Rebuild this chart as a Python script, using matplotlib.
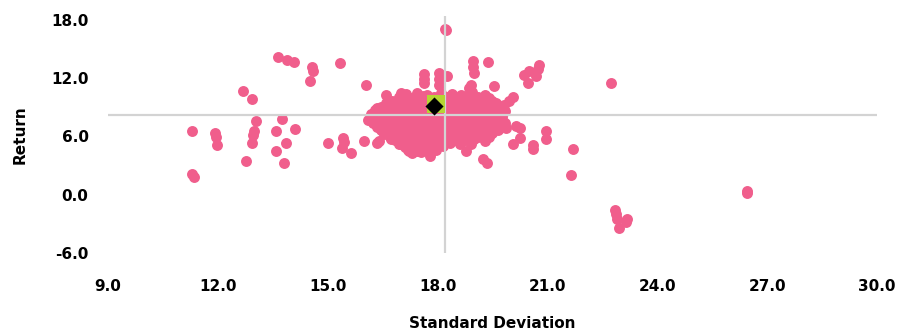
import matplotlib
matplotlib.use('Agg')
import matplotlib.pyplot as plt

# Funds: standard deviation vs return
left_sd = [11.29, 11.29, 11.36, 11.91, 11.95, 11.97, 12.70, 12.93, 13.03, 12.98,
           12.95, 12.93, 12.76, 13.75, 13.58, 13.85, 13.58, 14.12, 13.80, 13.64,
           13.89, 14.07, 14.56, 14.60, 14.51, 15.33, 15.00, 15.43, 15.44, 15.40,
           15.65, 15.99, 16.04, 16.58, 16.39, 16.36, 16.34, 16.17]
left_ret = [6.54, 2.10, 1.83, 6.31, 5.90, 5.11, 10.65, 9.83, 7.57, 6.54,
            6.20, 5.35, 3.50, 7.81, 6.54, 5.31, 4.49, 6.79, 3.30, 14.13,
            13.90, 13.69, 13.11, 12.70, 11.67, 13.52, 5.35, 5.87, 5.42, 4.77,
            4.33, 5.52, 11.26, 10.24, 5.52, 5.28, 8.94, 8.26]

core_sd = [17.15, 17.45, 17.70, 18.10, 18.40, 18.65, 18.95, 19.30,
           16.75, 17.00, 17.30, 17.55, 17.80, 18.15, 18.40, 18.70, 19.00, 19.25, 19.50,
           16.45, 16.70, 16.95, 17.25, 17.50, 17.75, 18.05, 18.30, 18.55, 18.85, 19.10, 19.40, 19.70,
           16.20, 16.50, 16.80, 17.05, 17.30, 17.60, 17.85, 18.10, 18.40, 18.65, 18.90, 19.20, 19.45, 19.75,
           16.10, 16.40, 16.65, 16.95, 17.20, 17.45, 17.75, 18.00, 18.25, 18.55, 18.80, 19.05, 19.35, 19.60,
           16.35, 16.60, 16.90, 17.15, 17.40, 17.70, 17.95, 18.20, 18.50, 18.75, 19.00, 19.30, 19.55,
           16.55, 16.80, 17.05, 17.35, 17.60, 17.90, 18.15, 18.40, 18.70, 18.95, 19.20, 19.50,
           16.85, 17.10, 17.40, 17.65, 17.90, 18.20, 18.45, 18.75, 19.00, 19.30,
           17.10, 17.35, 17.60, 17.85, 18.15,
           17.30, 17.55]
core_ret = [10.35, 10.45, 10.30, 10.50, 10.40, 10.25, 10.60, 10.30,
            9.70, 9.85, 9.75, 9.90, 9.80, 9.70, 9.95, 9.80, 9.75, 9.90, 9.60,
            9.05, 9.15, 9.00, 9.20, 9.10, 9.05, 9.15, 9.00, 9.20, 9.10, 9.05, 9.15, 9.00,
            8.35, 8.45, 8.30, 8.50, 8.40, 8.35, 8.45, 8.30, 8.40, 8.50, 8.35, 8.45, 8.30, 8.40,
            7.70, 7.60, 7.75, 7.65, 7.80, 7.70, 7.60, 7.75, 7.70, 7.65, 7.80, 7.70, 7.60, 7.75,
            7.00, 6.95, 7.10, 7.00, 6.90, 7.05, 7.00, 6.95, 7.10, 7.00, 6.90, 7.05, 6.95,
            6.30, 6.40, 6.25, 6.35, 6.30, 6.20, 6.35, 6.30, 6.25, 6.40, 6.30, 6.35,
            5.60, 5.70, 5.55, 5.65, 5.60, 5.50, 5.65, 5.60, 5.70, 5.55,
            4.90, 4.80, 4.95, 4.85, 5.00,
            4.30, 4.40]

# second, offset layer of the dense middle
core2_sd = [16.95, 17.30, 17.60, 17.90, 18.25, 18.55, 18.80, 19.10, 19.40,
            16.60, 16.85, 17.15, 17.40, 17.65, 17.95, 18.25, 18.50, 18.80, 19.05, 19.35, 19.60,
            16.30, 16.60, 16.85, 17.10, 17.40, 17.65, 17.95, 18.20, 18.50, 18.75, 19.00, 19.30, 19.55, 19.85,
            16.25, 16.55, 16.80, 17.10, 17.35, 17.65, 17.90, 18.15, 18.45, 18.70, 18.95, 19.25, 19.50, 19.75,
            16.25, 16.50, 16.80, 17.05, 17.30, 17.60, 17.85, 18.10, 18.40, 18.65, 18.90, 19.20, 19.45, 19.70,
            16.45, 16.70, 17.00, 17.25, 17.50, 17.80, 18.05, 18.30, 18.60, 18.85, 19.10, 19.40, 19.65,
            16.70, 16.95, 17.20, 17.50, 17.75, 18.00, 18.30, 18.55, 18.85, 19.10, 19.40,
            16.95, 17.25, 17.50, 17.75, 18.05, 18.35, 18.60, 18.90,
            17.20, 17.45, 17.70, 17.95]
core2_ret = [10.10, 10.00, 10.15, 10.05, 10.10, 10.00, 10.15, 10.05, 10.00,
             9.45, 9.40, 9.50, 9.45, 9.35, 9.50, 9.45, 9.40, 9.50, 9.45, 9.35, 9.40,
             8.75, 8.70, 8.80, 8.75, 8.65, 8.80, 8.75, 8.70, 8.80, 8.75, 8.70, 8.80, 8.75, 8.65,
             8.05, 8.00, 8.10, 8.05, 7.95, 8.10, 8.05, 8.00, 8.10, 8.05, 7.95, 8.05, 8.10, 8.00,
             7.35, 7.30, 7.40, 7.35, 7.25, 7.40, 7.35, 7.30, 7.40, 7.35, 7.30, 7.40, 7.35, 7.25,
             6.65, 6.60, 6.70, 6.65, 6.55, 6.70, 6.65, 6.60, 6.70, 6.65, 6.60, 6.70, 6.65,
             5.95, 5.90, 6.00, 5.95, 5.85, 6.00, 5.95, 5.90, 6.00, 5.95, 5.90,
             5.25, 5.20, 5.30, 5.25, 5.15, 5.30, 5.25, 5.20,
             4.60, 4.55, 4.65, 4.60]

upper_sd = [18.20, 18.23, 17.62, 17.62, 17.63, 18.05, 18.05, 18.05, 18.27, 17.01,
            18.91, 18.87, 18.96, 18.96, 18.99, 19.37, 19.55, 20.05, 19.82, 19.95,
            20.78, 20.74, 20.69, 20.51, 20.37, 20.46]
upper_ret = [17.10, 16.95, 12.46, 11.90, 11.50, 12.50, 11.90, 11.33, 12.26, 10.48,
             11.33, 11.00, 13.72, 13.10, 12.50, 13.66, 11.20, 10.07, 9.28, 9.70,
             13.38, 12.90, 12.19, 12.70, 12.36, 11.50]

right_sd = [22.75, 21.71, 21.65, 26.46, 26.46, 22.84, 22.86, 22.90, 23.18, 23.16,
            22.95, 20.97, 20.95, 20.62, 20.62, 20.24, 20.26, 20.07, 19.84, 19.87,
            20.15, 18.78, 19.23, 19.35, 17.80, 17.22, 17.00, 16.72]
right_ret = [11.47, 4.74, 2.07, 0.42, 0.22, -1.56, -2.00, -2.50, -2.50, -2.79,
             -3.47, 6.54, 5.69, 5.08, 4.67, 6.89, 5.87, 5.18, 7.40, 6.89,
             7.06, 4.49, 3.71, 3.30, 3.98, 4.49, 5.18, 5.69]

# reference lines and highlighted points
avg_sd, avg_ret = 18.2, 8.2
bench_sd, bench_ret = 17.97, 9.35
port_sd, port_ret = 17.90, 9.10

xticks = [9, 12, 15, 18, 21, 24, 27, 30]
yticks = [-6, 0, 6, 12, 18]

pink = '#F05E8C'
plt.rcParams['font.family'] = ['DejaVu Sans']
plt.rcParams['font.weight'] = 'bold'

fig = plt.figure(figsize=(8.99, 3.36), dpi=100)
ax = fig.add_axes([0.1201, 0.247, 0.8554, 0.7054])

all_sd = left_sd + core_sd + core2_sd + upper_sd + right_sd
all_ret = left_ret + core_ret + core2_ret + upper_ret + right_ret
ax.scatter(all_sd, all_ret, s=62, color=pink, linewidths=0, zorder=2)

ax.axvline(avg_sd, color='#D3D3D3', lw=1.6, zorder=3)
ax.axhline(avg_ret, color='#D3D3D3', lw=1.6, zorder=3)

ax.scatter([bench_sd], [bench_ret], marker='s', s=150, color='#B6D433', linewidths=0, zorder=4)
ax.scatter([port_sd], [port_ret], marker='D', s=85, color='black', linewidths=0, zorder=5)

ax.set_xlim(9, 30)
ax.set_ylim(-6, 18.4)
ax.set_xticks(xticks)
ax.set_yticks(yticks)
ax.set_xticklabels(['%.1f' % v for v in xticks])
ax.set_yticklabels(['%.1f' % v for v in yticks])
ax.tick_params(axis='x', length=0, pad=19, labelsize=11)
ax.tick_params(axis='y', length=0, pad=14, labelsize=11)
for sp in ax.spines.values():
    sp.set_visible(False)

ax.set_xlabel('Standard Deviation', fontsize=11, fontweight='bold')
ax.set_ylabel('Return', fontsize=11, fontweight='bold')
ax.xaxis.set_label_coords(0.5, -0.265)
ax.yaxis.set_label_coords(-0.104, 0.5)

fig.savefig('out.png', dpi=100)
